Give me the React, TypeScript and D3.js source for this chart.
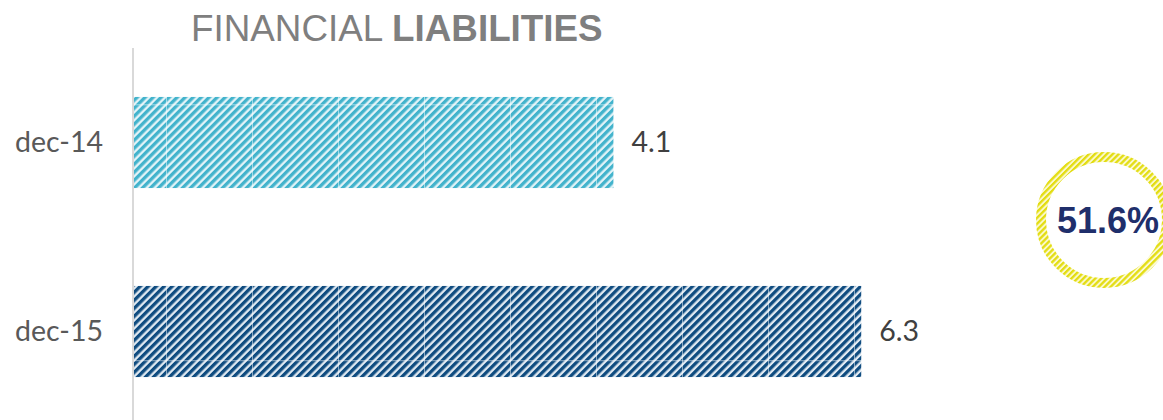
import React from "react";
import * as d3 from "d3";

const categories = ["dec-14", "dec-15"];
const values = [4.14, 6.28];
const valueLabels = ["4.1", "6.3"];
const changeLabel = "51.6%";
const titleRegular = "FINANCIAL ";
const titleBold = "LIABILITIES";

const W = 1163;
const H = 420;

export default function App() {
  const x = d3.scaleLinear().domain([0, 8]).range([134, 134 + 8 * 115.8]);
  const y = d3
    .scaleBand<string>()
    .domain(categories)
    .range([48, 426])
    .paddingInner(0.518)
    .paddingOuter(0.259);
  const fills = ["url(#hatchLight)", "url(#hatchDark)"];
  const fmt = d3.format(".1f");

  return (
    <svg
      width={W}
      height={H}
      style={{ position: "absolute", left: 0, top: 0, background: "#fff" }}
    >
      <defs>
        <pattern
          id="hatchLight"
          patternUnits="userSpaceOnUse"
          width={5.66}
          height={5.66}
          patternTransform="rotate(45)"
        >
          <rect width={5.66} height={5.66} fill="#e4f4f8" />
          <rect width={3.3} height={5.66} fill="#42b3cc" />
        </pattern>
        <pattern
          id="hatchDark"
          patternUnits="userSpaceOnUse"
          width={5.66}
          height={5.66}
          patternTransform="rotate(45)"
        >
          <rect width={5.66} height={5.66} fill="#e2ebf3" />
          <rect width={3.3} height={5.66} fill="#0f4c80" />
        </pattern>
        <pattern
          id="hatchYellow"
          patternUnits="userSpaceOnUse"
          width={4.2}
          height={4.2}
          patternTransform="rotate(45)"
        >
          <rect width={4.2} height={4.2} fill="#fbf9d0" />
          <rect width={2.3} height={4.2} fill="#e3dd12" />
        </pattern>
        <pattern
          id="seams"
          patternUnits="userSpaceOnUse"
          x={166}
          y={19}
          width={86}
          height={85.3}
        >
          <rect x={0} y={0} width={1} height={85.3} fill="#ffffff" opacity={0.5} />
          <rect x={0} y={0} width={86} height={1} fill="#ffffff" opacity={0.5} />
        </pattern>
      </defs>

      <text
        x={191}
        y={41}
        fontFamily="'Liberation Sans', Arial, sans-serif"
        fontSize={36.8}
        fill="#7f7f7f"
      >
        {titleRegular}
        <tspan fontWeight="bold">{titleBold}</tspan>
      </text>

      {categories.map((c, i) => {
        const y0 = y(c)!;
        const bw = y.bandwidth();
        return (
          <g key={c}>
            <rect x={x(0)} y={y0} width={x(values[i]) - x(0)} height={bw} fill={fills[i]} />
            <rect x={x(0)} y={y0} width={x(values[i]) - x(0)} height={bw} fill="url(#seams)" />
            <text
              x={103}
              y={y0 + bw / 2}
              dy="0.35em"
              textAnchor="end"
              fontFamily="Lato, 'Open Sans', sans-serif"
              fontSize={28.5}
              fill="#595959"
            >
              {c}
            </text>
            <text
              x={x(values[i]) + 18}
              y={y0 + bw / 2}
              dy="0.35em"
              fontFamily="Lato, 'Open Sans', sans-serif"
              fontSize={28.5}
              fill="#404040"
            >
              {valueLabels[i] ?? fmt(values[i])}
            </text>
          </g>
        );
      })}

      <line x1={133} x2={133} y1={48} y2={H} stroke="#d9d9d9" strokeWidth={2} />

      <circle cx={1104} cy={220} r={63} fill="none" stroke="url(#hatchYellow)" strokeWidth={10} />
      <text
        x={1108}
        y={220}
        dy="0.36em"
        textAnchor="middle"
        fontFamily="'Liberation Sans', Arial, sans-serif"
        fontWeight="bold"
        fontSize={36}
        fill="#1f2f6b"
      >
        {changeLabel}
      </text>
    </svg>
  );
}
